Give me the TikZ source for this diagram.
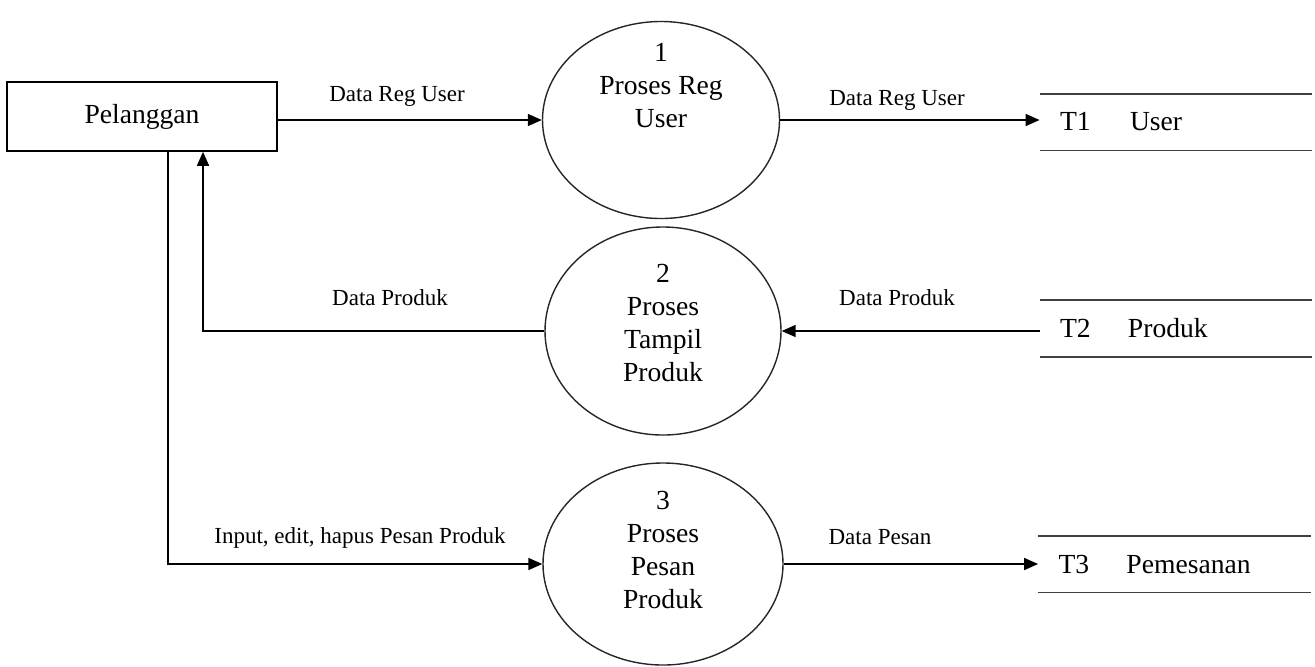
\documentclass[tikz,border=0pt]{standalone}
\usepackage{fontspec}
\setmainfont{Liberation Serif}
\usetikzlibrary{shapes.geometric,arrows.meta}

\tikzset{
  entity/.style={draw, line width=0.8pt, minimum width=135pt, minimum height=34.5pt, font=\fontsize{13.8}{16.5}\selectfont},
  proc/.style={draw, ellipse, line width=0.7pt, draw=black!85, inner sep=0pt},
  proctext/.style={align=center, inner sep=0pt, font=\fontsize{13.8}{16.5}\selectfont},
  store/.style={inner xsep=10pt, text width=116pt, minimum height=28pt, align=left, font=\fontsize{13.8}{16.5}\selectfont},
  storeline/.style={line width=0.9pt, draw=black!75},
  flowlabel/.style={inner sep=0pt, font=\fontsize{11.5}{13}\selectfont},
  flow/.style={-{Triangle[length=7pt,width=6pt]}, line width=0.8pt},
}

\begin{document}
\begin{tikzpicture}[x=0.5pt,y=-0.5pt]
\useasboundingbox (0,0) rectangle (1315,666);
% external entity
\node (pel) [entity] at (142,116.5) {Pelanggan};
% processes
\node (p1) [proc, minimum width=118.5pt, minimum height=98.5pt] at (661,120) {};
\node (p1t) [proctext] at (661,86) {1\\Proses Reg\\User};
\node (p2) [proc, minimum width=118pt, minimum height=104pt] at (663,331) {};
\node (p2t) [proctext] at (663,322.5) {2\\Proses\\Tampil\\Produk};
\node (p3) [proc, minimum width=120pt, minimum height=101pt] at (663,564) {};
\node (p3t) [proctext] at (663,549.5) {3\\Proses\\Pesan\\Produk};
% data stores
\node (t1) [store] at (1176,122) {\makebox[35pt][l]{T1}User};
\node (t2) [store] at (1176,328.5) {\makebox[34pt][l]{T2}Produk};
\node (t3) [store] at (1174.5,564) {\makebox[34pt][l]{T3}Pemesanan};
\foreach \s in {t1,t2,t3}
  \draw[storeline] (\s.north west) -- (\s.north east) (\s.south west) -- (\s.south east);
% flows
\draw[flow] (pel.east |- p1.west) -- (p1.west);
\node (l1) [flowlabel] at (397,96) {Data Reg User};
\draw[flow] (p1.east) -- (p1.east -| t1.west);
\node (l2) [flowlabel] at (897,100) {Data Reg User};
\draw[flow] (p2.west) -| ([xshift=30.5pt]pel.south);
\node (l3) [flowlabel] at (390,298) {Data Produk};
\draw[flow] (t2.west |- p2.east) -- (p2.east);
\node (l4) [flowlabel] at (897,298) {Data Produk};
\draw[flow] ([xshift=13pt]pel.south) |- (p3.west);
\node (l5) [flowlabel] at (360,538) {Input, edit, hapus Pesan Produk};
\draw[flow] (p3.east) -- (p3.east -| t3.west);
\node (l6) [flowlabel] at (880,537) {Data Pesan};
\end{tikzpicture}
\end{document}
